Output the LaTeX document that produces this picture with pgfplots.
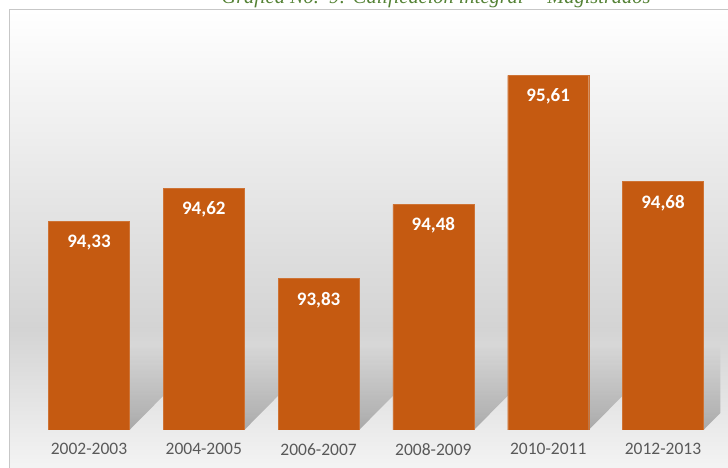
\documentclass[border=0pt]{standalone}
\usepackage{pgfplots}
\pgfplotsset{compat=1.18}
\usepackage{fontspec}
\setmainfont{Carlito}
\newfontfamily\titlefont{Liberation Serif}
\usetikzlibrary{fadings}
\definecolor{barc}{HTML}{C55A11}
\definecolor{titlec}{HTML}{548235}
\definecolor{labc}{HTML}{595959}
\begin{document}
\begin{tikzpicture}[x=1pt,y=1pt]
\useasboundingbox (0,0) rectangle (728,468);
\shade[top color=white, bottom color=black!17] (9,140) rectangle (740,458);
\shade[top color=black!17, bottom color=black!4] (9,-5) rectangle (740,140);
\draw[black!22, line width=1pt] (9,-5) -- (9,458) -- (740,458);
\node[font=\titlefont\itshape\fontsize{20.4}{24}\selectfont, text=titlec, anchor=base] at (436,464) {Gráfica No.\ \ 9: Calificación integral -- Magistrados};
\begin{axis}[
  at={(31.6pt,38pt)}, anchor=south west,
  scale only axis, width=688.8pt, height=420pt,
  xmin=-0.5, xmax=5.5, ymin=92.5, ymax=96.184,
  ybar, bar width=81pt,
  axis line style={draw=none},
  major tick length=0pt,
  ytick=\empty,
  xtick={0,1,2,3,4,5},
  xticklabels={2002-2003,2004-2005,2006-2007,2008-2009,2010-2011,2012-2013},
  xticklabel style={font=\fontsize{17.5}{20}\selectfont, text=labc, yshift=-10pt},
  nodes near coords,
  every node near coord/.append style={anchor=north, yshift=-10pt, font=\bfseries\fontsize{19}{22}\selectfont, text=white},
  /pgf/number format/use comma,
  /pgf/number format/fixed,
  /pgf/number format/fixed zerofill,
  /pgf/number format/precision=2,
  /pgf/number format/assume math mode=true,
]
\fill[black, opacity=0.28, path fading=north] (axis cs:-0.353,92.5) -- (axis cs:0.353,92.5) -- (axis cs:1.09,93.25) -- (axis cs:0.387,93.25) -- cycle;
\fill[black, opacity=0.28, path fading=north] (axis cs:0.647,92.5) -- (axis cs:1.353,92.5) -- (axis cs:2.09,93.25) -- (axis cs:1.387,93.25) -- cycle;
\fill[black, opacity=0.28, path fading=north] (axis cs:1.647,92.5) -- (axis cs:2.353,92.5) -- (axis cs:3.09,93.25) -- (axis cs:2.387,93.25) -- cycle;
\fill[black, opacity=0.28, path fading=north] (axis cs:2.647,92.5) -- (axis cs:3.353,92.5) -- (axis cs:4.09,93.25) -- (axis cs:3.387,93.25) -- cycle;
\fill[black, opacity=0.28, path fading=north] (axis cs:3.647,92.5) -- (axis cs:4.353,92.5) -- (axis cs:5.09,93.25) -- (axis cs:4.387,93.25) -- cycle;
\fill[black, opacity=0.28, path fading=north] (axis cs:4.647,92.5) -- (axis cs:5.353,92.5) -- (axis cs:6.09,93.25) -- (axis cs:5.387,93.25) -- cycle;
\addplot[fill=barc, draw=barc!85!white] coordinates {(0,94.33) (1,94.62) (2,93.83) (3,94.48) (4,95.61) (5,94.68)};
\end{axis}
\end{tikzpicture}
\end{document}
